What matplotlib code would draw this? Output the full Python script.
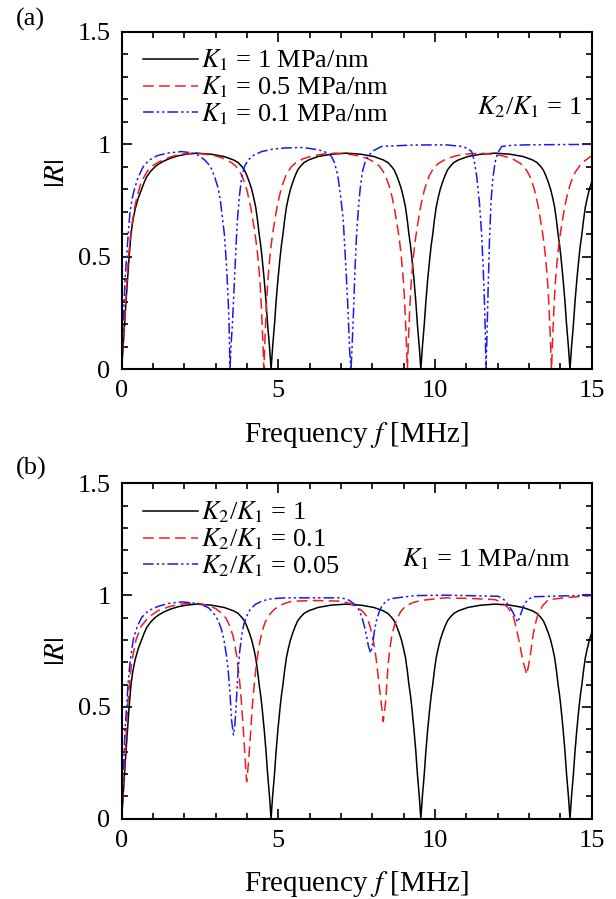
import matplotlib
matplotlib.use("Agg")
import matplotlib.pyplot as plt
from matplotlib.ticker import MultipleLocator, FormatStrFormatter

plt.rcParams['font.family'] = ['Liberation Serif', 'DejaVu Serif']
plt.rcParams['mathtext.fontset'] = 'stix'

# K1 = 1 MPa/nm, K2/K1 = 1 (same curve in both panels)
f_k1_1 = [0, 0.04, 0.08, 0.14, 0.19, 0.24, 0.3, 0.36, 0.43, 0.53, 0.64, 0.72, 0.8, 0.93, 1.07, 1.2, 1.35, 1.55, 1.8, 2.05, 2.385,
          2.87, 3.27, 3.57, 3.72, 3.84, 3.92, 4.0, 4.08, 4.15, 4.22, 4.28, 4.34, 4.39, 4.44, 4.48, 4.55, 4.61, 4.66, 4.72, 4.77,
          4.82, 4.88, 4.93, 4.99, 5.06, 5.1, 5.15, 5.2, 5.26, 5.32, 5.39, 5.46, 5.54, 5.62, 5.7, 5.82, 5.97, 6.27, 6.67, 7.16,
          7.65, 8.05, 8.35, 8.5, 8.62, 8.7, 8.78, 8.86, 8.93, 9.0, 9.06, 9.12, 9.17, 9.22, 9.26, 9.33, 9.39, 9.44, 9.5, 9.55,
          9.6, 9.66, 9.71, 9.77, 9.84, 9.88, 9.93, 9.98, 10.04, 10.1, 10.17, 10.24, 10.32, 10.4, 10.48, 10.6, 10.75, 11.05, 11.45, 11.93,
          12.41, 12.81, 13.11, 13.26, 13.38, 13.46, 13.54, 13.62, 13.69, 13.76, 13.82, 13.88, 13.93, 13.98, 14.02, 14.09, 14.15, 14.2, 14.26, 14.31,
          14.36, 14.42, 14.47, 14.53, 14.6, 14.64, 14.69, 14.74, 14.8, 14.86, 14.93, 15.0]
r_k1_1 = [0, 0.08, 0.17, 0.3, 0.4, 0.5, 0.6, 0.66, 0.71, 0.76, 0.8, 0.83, 0.855, 0.88, 0.9, 0.913, 0.925, 0.937, 0.948, 0.955, 0.96,
          0.955, 0.945, 0.93, 0.918, 0.9, 0.885, 0.86, 0.83, 0.8, 0.76, 0.72, 0.66, 0.6, 0.55, 0.5, 0.4, 0.3, 0.2, 0.1, 0,
          0.1, 0.2, 0.3, 0.4, 0.5, 0.55, 0.6, 0.66, 0.72, 0.76, 0.8, 0.83, 0.86, 0.885, 0.9, 0.918, 0.93, 0.945, 0.955, 0.96,
          0.955, 0.945, 0.93, 0.918, 0.9, 0.885, 0.86, 0.83, 0.8, 0.76, 0.72, 0.66, 0.6, 0.55, 0.5, 0.4, 0.3, 0.2, 0.1, 0,
          0.1, 0.2, 0.3, 0.4, 0.5, 0.55, 0.6, 0.66, 0.72, 0.76, 0.8, 0.83, 0.86, 0.885, 0.9, 0.918, 0.93, 0.945, 0.955, 0.96,
          0.955, 0.945, 0.93, 0.918, 0.9, 0.885, 0.86, 0.83, 0.8, 0.76, 0.72, 0.66, 0.6, 0.55, 0.5, 0.4, 0.3, 0.2, 0.1, 0,
          0.1, 0.2, 0.3, 0.4, 0.5, 0.55, 0.6, 0.66, 0.72, 0.76, 0.8, 0.83]

# (a) K1 = 0.5 MPa/nm
f_k1_05 = [0, 0.04, 0.08, 0.14, 0.18, 0.22, 0.3, 0.36, 0.42, 0.5, 0.6, 0.7, 0.8, 0.9, 1.0, 1.2, 1.4, 1.6, 1.8, 2.0, 2.27,
           2.64, 2.99, 3.29, 3.54, 3.66, 3.76, 3.84, 3.92, 3.99, 4.06, 4.12, 4.18, 4.24, 4.29, 4.34, 4.38, 4.42, 4.46, 4.5, 4.54,
           4.58, 4.62, 4.66, 4.7, 4.74, 4.79, 4.84, 4.9, 4.96, 5.02, 5.09, 5.16, 5.24, 5.32, 5.42, 5.54, 5.79, 6.09, 6.44, 6.83,
           7.22, 7.57, 7.87, 8.12, 8.24, 8.34, 8.42, 8.5, 8.57, 8.64, 8.7, 8.76, 8.82, 8.87, 8.92, 8.96, 9.0, 9.04, 9.08, 9.12,
           9.16, 9.2, 9.24, 9.28, 9.32, 9.37, 9.42, 9.48, 9.54, 9.6, 9.67, 9.74, 9.82, 9.9, 10.0, 10.12, 10.37, 10.67, 11.02, 11.42,
           11.82, 12.17, 12.47, 12.72, 12.84, 12.94, 13.02, 13.1, 13.17, 13.24, 13.3, 13.36, 13.42, 13.47, 13.52, 13.56, 13.6, 13.64, 13.68, 13.72,
           13.76, 13.8, 13.84, 13.88, 13.92, 13.97, 14.02, 14.08, 14.14, 14.2, 14.27, 14.34, 14.42, 14.5, 14.6, 14.72, 14.97, 15.0]
r_k1_05 = [0, 0.09, 0.18, 0.32, 0.42, 0.5, 0.62, 0.67, 0.72, 0.77, 0.82, 0.85, 0.875, 0.893, 0.905, 0.922, 0.935, 0.945, 0.952, 0.957, 0.96,
           0.956, 0.948, 0.935, 0.915, 0.9, 0.88, 0.86, 0.83, 0.8, 0.76, 0.72, 0.67, 0.62, 0.57, 0.51, 0.45, 0.38, 0.28, 0.15, 0,
           0.15, 0.28, 0.38, 0.45, 0.51, 0.57, 0.62, 0.67, 0.72, 0.76, 0.8, 0.83, 0.86, 0.88, 0.9, 0.915, 0.935, 0.948, 0.956, 0.96,
           0.956, 0.948, 0.935, 0.915, 0.9, 0.88, 0.86, 0.83, 0.8, 0.76, 0.72, 0.67, 0.62, 0.57, 0.51, 0.45, 0.38, 0.28, 0.15, 0,
           0.15, 0.28, 0.38, 0.45, 0.51, 0.57, 0.62, 0.67, 0.72, 0.76, 0.8, 0.83, 0.86, 0.88, 0.9, 0.915, 0.935, 0.948, 0.956, 0.96,
           0.956, 0.948, 0.935, 0.915, 0.9, 0.88, 0.86, 0.83, 0.8, 0.76, 0.72, 0.67, 0.62, 0.57, 0.51, 0.45, 0.38, 0.28, 0.15, 0,
           0.15, 0.28, 0.38, 0.45, 0.51, 0.57, 0.62, 0.67, 0.72, 0.76, 0.8, 0.83, 0.86, 0.88, 0.9, 0.92, 0.945, 0.946]

# (a) K1 = 0.1 MPa/nm
f_k1_01 = [0, 0.04, 0.08, 0.12, 0.16, 0.21, 0.27, 0.34, 0.41, 0.52, 0.69, 0.85, 1.0, 1.17, 1.45, 1.92,
           2.2, 2.45, 2.65, 2.78, 2.87, 2.98, 3.09, 3.16, 3.22, 3.28, 3.33, 3.37, 3.41, 3.43, 3.46,
           3.49, 3.54, 3.58, 3.62, 3.66, 3.7, 3.76, 3.83, 3.92, 4.04, 4.2, 4.47, 4.8, 5.2, 5.8,
           6.28, 6.5, 6.62, 6.7, 6.8, 6.9, 6.98, 7.07, 7.12, 7.17, 7.22, 7.28, 7.32, 7.35, 7.4, 7.45, 7.5, 7.56,
           7.62, 7.69, 7.78, 7.88, 8.05, 8.3, 9.3, 10.35, 10.85,
           11.0, 11.1, 11.17, 11.25, 11.33, 11.42, 11.49, 11.54, 11.58, 11.61, 11.63, 11.66, 11.7, 11.74, 11.79,
           11.85, 11.92, 12.0, 12.13, 12.5, 13.0, 15.0]
r_k1_01 = [0, 0.15, 0.3, 0.42, 0.5, 0.6, 0.7, 0.76, 0.8, 0.85, 0.9, 0.925, 0.94, 0.95, 0.96, 0.967,
           0.962, 0.95, 0.93, 0.91, 0.89, 0.85, 0.8, 0.74, 0.67, 0.6, 0.5, 0.4, 0.28, 0.2, 0,
           0.1, 0.21, 0.33, 0.45, 0.57, 0.67, 0.77, 0.85, 0.9, 0.93, 0.95, 0.967, 0.977, 0.983, 0.985,
           0.975, 0.965, 0.955, 0.945, 0.915, 0.86, 0.78, 0.67, 0.55, 0.42, 0.28, 0.08, 0, 0.08, 0.25, 0.45, 0.6, 0.72,
           0.81, 0.88, 0.925, 0.95, 0.972, 0.99, 0.996, 0.997, 0.99,
           0.983, 0.975, 0.967, 0.93, 0.86, 0.74, 0.6, 0.45, 0.3, 0.15, 0, 0.15, 0.37, 0.57, 0.745,
           0.85, 0.92, 0.96, 0.99, 0.995, 0.997, 0.999]

# (b) K2/K1 = 0.1
f_k2_01 = [0, 0.04, 0.08, 0.13, 0.19, 0.25, 0.32, 0.46, 0.62, 0.85, 1.15, 1.55, 1.9, 2.24, 2.5, 2.77, 3.0, 3.19,
           3.34, 3.46, 3.57, 3.67, 3.75, 3.81, 3.87, 3.92, 3.96, 3.99, 4.03, 4.07, 4.12, 4.17, 4.24, 4.31, 4.39,
           4.47, 4.57, 4.68, 4.84, 5.0, 5.2, 5.43, 6.2, 7.02, 7.3, 7.56, 7.7, 7.82, 7.93, 8.03, 8.12, 8.19, 8.25,
           8.3, 8.35, 8.39, 8.43, 8.47, 8.51, 8.57, 8.64, 8.71, 8.78, 8.9, 9.05, 9.3, 9.58, 10.32, 11.2, 11.92,
           12.12, 12.29, 12.4, 12.5, 12.6, 12.72, 12.8, 12.86, 12.93, 12.98, 13.04, 13.09, 13.14, 13.22, 13.3,
           13.45, 13.62, 14.26, 15.0]
r_k2_01 = [0, 0.1, 0.2, 0.33, 0.5, 0.6, 0.7, 0.8, 0.86, 0.9, 0.93, 0.95, 0.96, 0.965, 0.962, 0.953, 0.94, 0.92,
           0.895, 0.86, 0.81, 0.73, 0.64, 0.546, 0.43, 0.32, 0.23, 0.165, 0.22, 0.29, 0.39, 0.5, 0.61, 0.7, 0.775,
           0.83, 0.875, 0.906, 0.932, 0.95, 0.963, 0.973, 0.976, 0.973, 0.962, 0.943, 0.926, 0.906, 0.86, 0.8, 0.72, 0.636, 0.56,
           0.5, 0.434, 0.48, 0.53, 0.615, 0.696, 0.77, 0.83, 0.865, 0.89, 0.925, 0.95, 0.967, 0.977, 0.988, 0.985, 0.98,
           0.968, 0.95, 0.93, 0.906, 0.85, 0.77, 0.71, 0.68, 0.644, 0.68, 0.726, 0.78, 0.83, 0.88, 0.92,
           0.955, 0.98, 0.99, 0.998]

# (b) K2/K1 = 0.05
f_k2_005 = [0, 0.04, 0.08, 0.12, 0.16, 0.21, 0.27, 0.37, 0.5, 0.64, 0.85, 1.17, 1.5, 1.92, 2.25, 2.55, 2.78, 2.93,
            3.07, 3.19, 3.28, 3.35, 3.41, 3.46, 3.51, 3.57, 3.61, 3.64, 3.68, 3.72, 3.77, 3.83, 3.9, 3.99, 4.1,
            4.26, 4.5, 4.79, 5.21, 7.02, 7.25, 7.45, 7.57, 7.66, 7.75, 7.82, 7.88, 7.95, 7.99, 8.03, 8.08, 8.14,
            8.22, 8.3, 8.42, 8.57, 9.36, 10.32, 12.02, 12.17, 12.29, 12.4, 12.5, 12.57, 12.64, 12.69, 12.75, 12.81,
            12.88, 13.0, 13.14, 15.0]
r_k2_005 = [0, 0.15, 0.3, 0.42, 0.5, 0.61, 0.7, 0.8, 0.86, 0.9, 0.93, 0.95, 0.963, 0.97, 0.966, 0.958, 0.943, 0.92,
            0.89, 0.846, 0.79, 0.726, 0.65, 0.56, 0.44, 0.374, 0.41, 0.47, 0.57, 0.666, 0.75, 0.816, 0.87, 0.906, 0.935,
            0.958, 0.975, 0.984, 0.988, 0.988, 0.978, 0.958, 0.935, 0.906, 0.86, 0.816, 0.77, 0.741, 0.765, 0.8, 0.85, 0.89,
            0.925, 0.95, 0.97, 0.984, 0.998, 1.0, 0.995, 0.985, 0.966, 0.945, 0.92, 0.9, 0.879, 0.895, 0.92, 0.945,
            0.966, 0.983, 0.993, 1.0]

labels_a = [r'$K_1$ = 1 MPa/nm', r'$K_1$ = 0.5 MPa/nm', r'$K_1$ = 0.1 MPa/nm']
labels_b = [r'$K_2$/$K_1$ = 1', r'$K_2$/$K_1$ = 0.1', r'$K_2$/$K_1$ = 0.05']

RED = '#ee1c1c'
BLUE = '#1a1aee'
FS = 19

fig = plt.figure(figsize=(6.16, 8.99), dpi=100)
ax_a = fig.add_axes([0.1974, 0.5892, 0.7630, 0.3757])
ax_b = fig.add_axes([0.1974, 0.0895, 0.7630, 0.3727])


def style_axes(ax):
    ax.set_xlim(0, 15)
    ax.set_ylim(0, 1.5)
    ax.xaxis.set_major_locator(MultipleLocator(5))
    ax.xaxis.set_minor_locator(MultipleLocator(1))
    ax.yaxis.set_major_locator(MultipleLocator(0.5))
    ax.yaxis.set_minor_locator(MultipleLocator(0.1))
    ax.yaxis.set_major_formatter(FormatStrFormatter('%g'))
    ax.tick_params(which='both', direction='in', top=True, right=True, labelsize=FS, width=1.2)
    ax.tick_params(which='major', length=7, pad=8)
    ax.tick_params(which='minor', length=4)
    for s in ax.spines.values():
        s.set_linewidth(1.5)
    ax.set_xlabel(r'Frequency $f$ [MHz]', fontsize=21)
    ax.set_ylabel(r'$|R|$', fontsize=21)


def add_legend(ax):
    ax.legend(loc='upper left', bbox_to_anchor=(-0.006, 1.022), frameon=False, fontsize=FS,
              handlelength=2.1, handletextpad=0.1, labelspacing=0.05, borderaxespad=0.5)


# panel (a)
ax_a.plot(f_k1_1, r_k1_1, color='black', lw=1.1, label=labels_a[0])
ax_a.plot(f_k1_05, r_k1_05, color=RED, lw=1.1, dashes=(7, 3.5), label=labels_a[1])
ax_a.plot(f_k1_01, r_k1_01, color=BLUE, lw=1.1, dashes=(7, 2, 1.5, 2, 1.5, 2), label=labels_a[2])
style_axes(ax_a)
ax_a.xaxis.set_label_coords(0.5, -0.15)
ax_a.yaxis.set_label_coords(-0.11, 0.58)
add_legend(ax_a)
ax_a.text(0.98, 0.775, r'$K_2$/$K_1$ = 1', transform=ax_a.transAxes, ha='right', va='center', fontsize=FS)
fig.text(0.025, 0.978, '(a)', fontsize=FS, va='center')

# panel (b)
ax_b.plot(f_k1_1, r_k1_1, color='black', lw=1.1, label=labels_b[0])
ax_b.plot(f_k2_01, r_k2_01, color=RED, lw=1.1, dashes=(7, 3.5), label=labels_b[1])
ax_b.plot(f_k2_005, r_k2_005, color=BLUE, lw=1.1, dashes=(7, 2, 1.5, 2, 1.5, 2), label=labels_b[2])
style_axes(ax_b)
ax_b.xaxis.set_label_coords(0.5, -0.15)
ax_b.yaxis.set_label_coords(-0.11, 0.5)
add_legend(ax_b)
ax_b.text(0.955, 0.773, r'$K_1$ = 1 MPa/nm', transform=ax_b.transAxes, ha='right', va='center', fontsize=FS)
fig.text(0.025, 0.479, '(b)', fontsize=FS, va='center')

fig.savefig('out.png', dpi=100)
